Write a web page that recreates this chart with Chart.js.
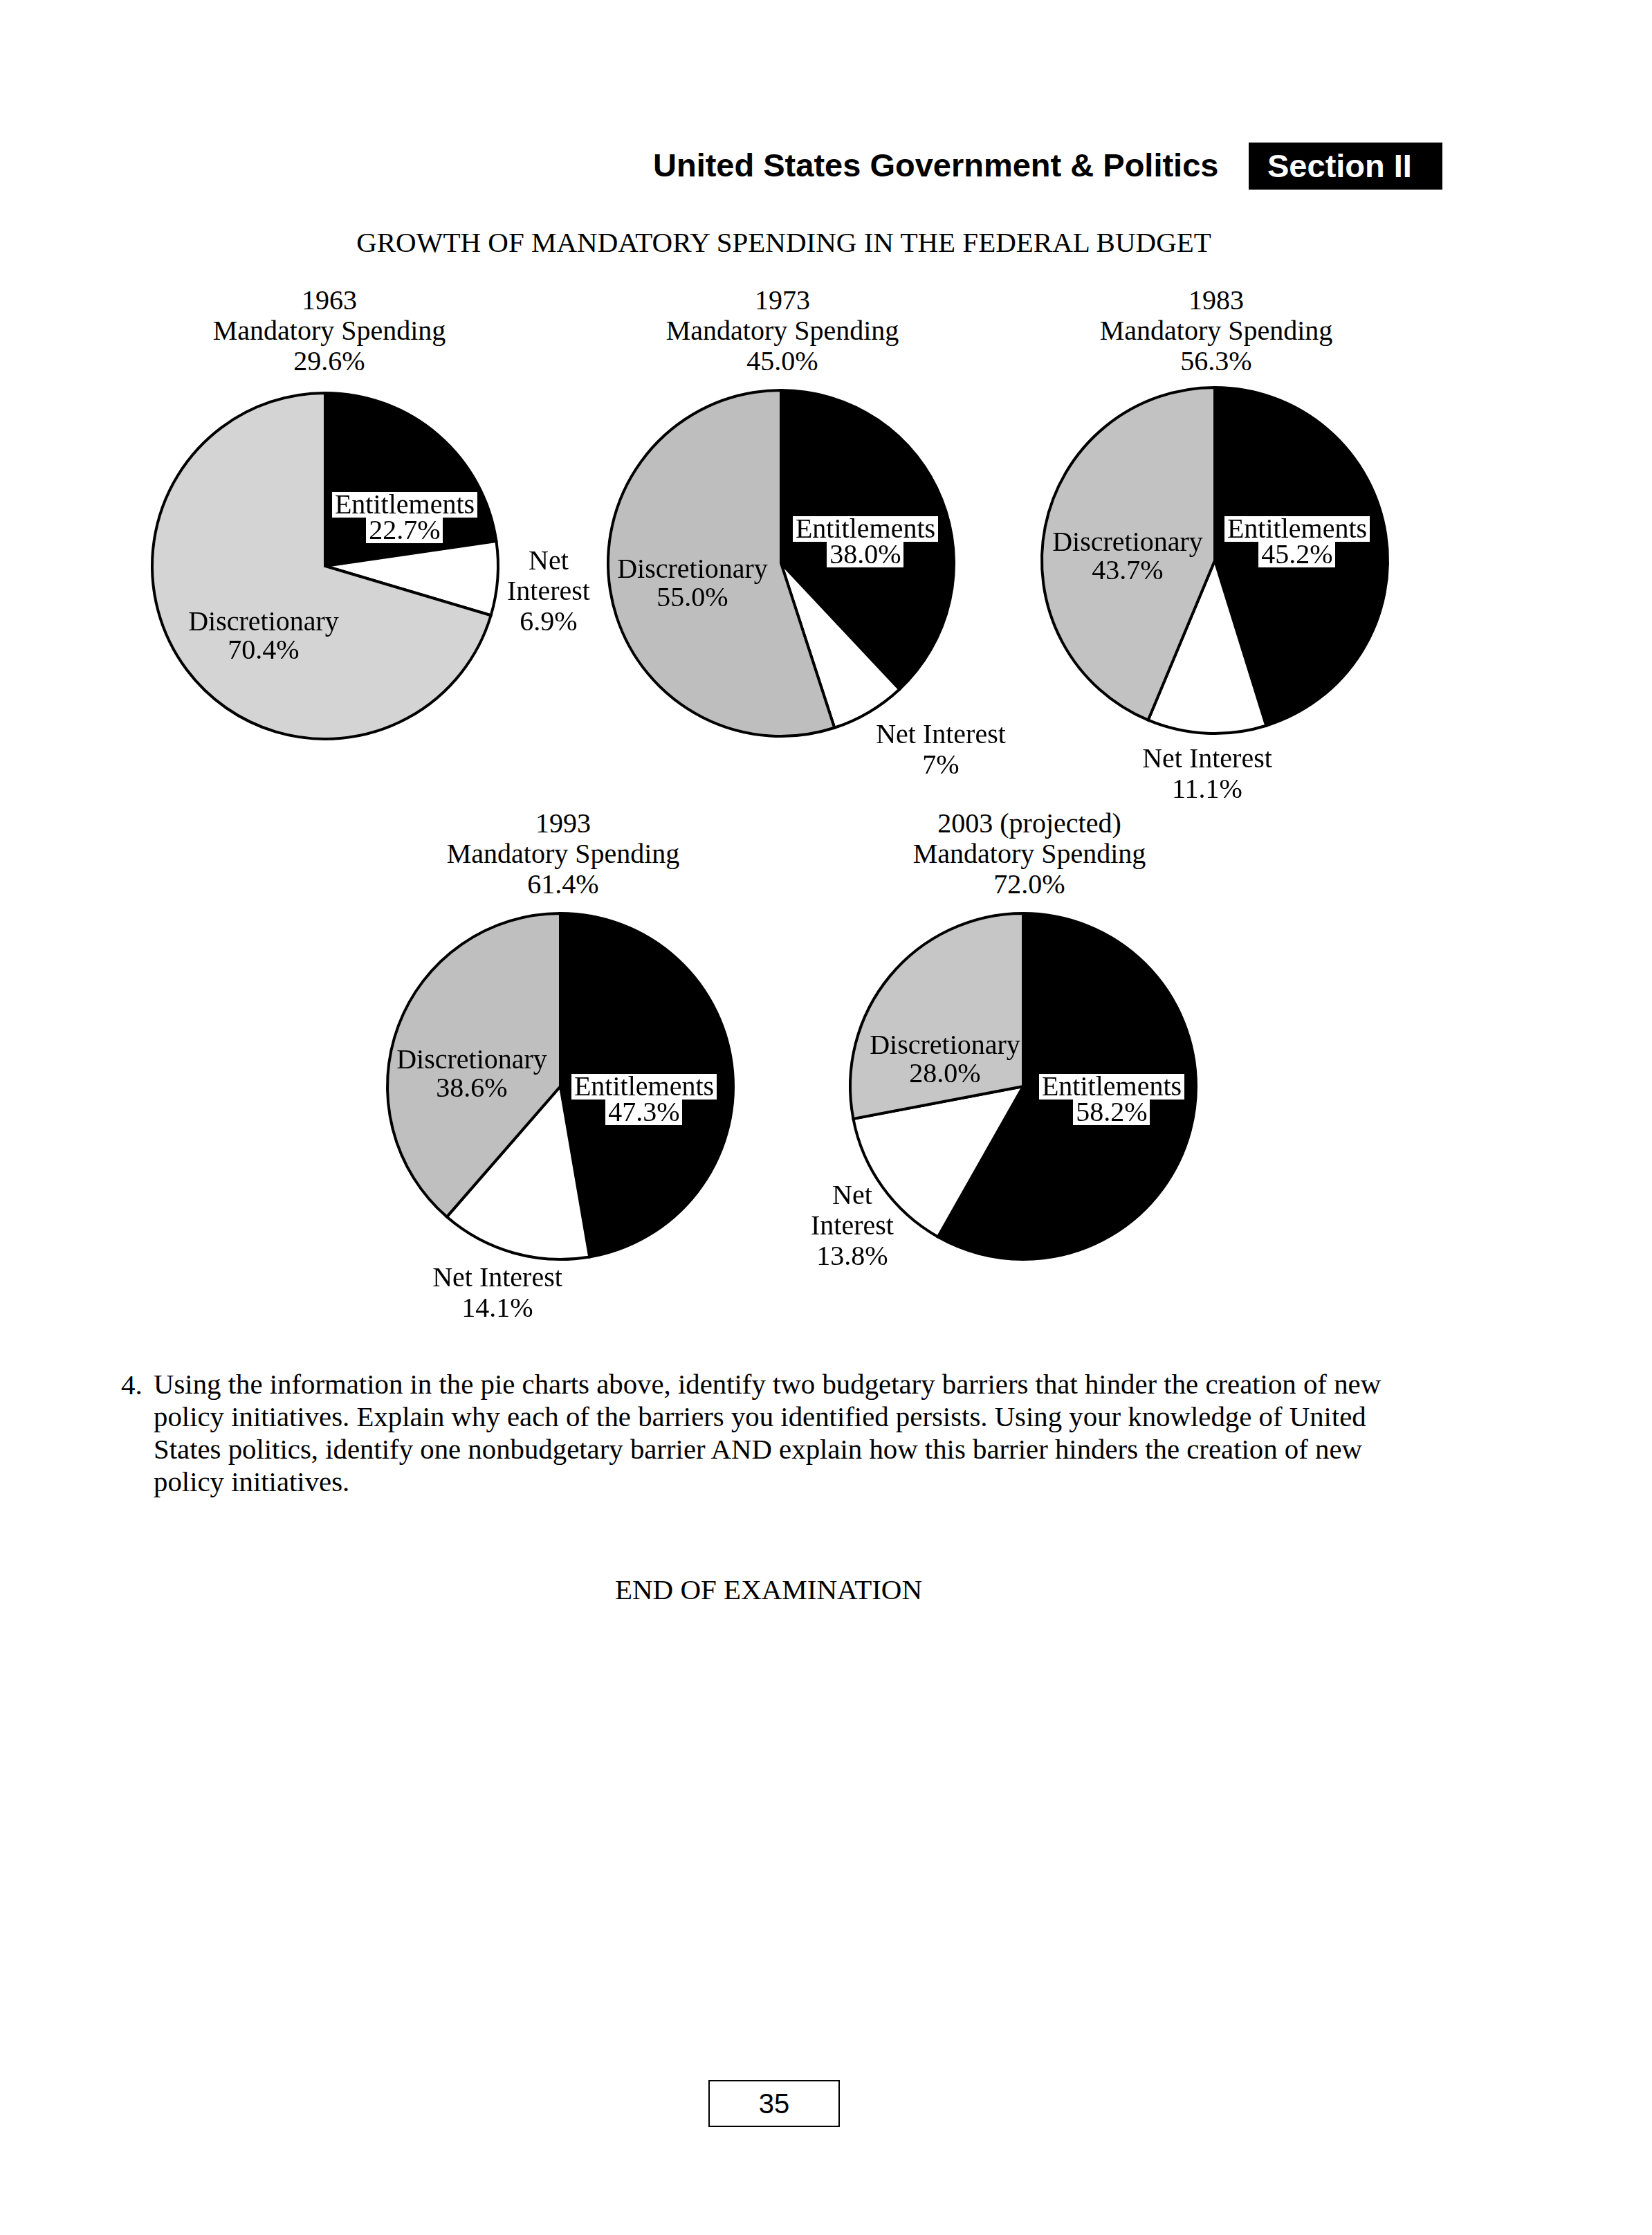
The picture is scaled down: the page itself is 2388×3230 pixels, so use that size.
<!DOCTYPE html>
<html>
<head>
<meta charset="utf-8">
<script src="https://cdn.jsdelivr.net/npm/chart.js@4.4.1/dist/chart.umd.min.js"></script>
<style>
  html, body { margin: 0; padding: 0; background: #fff; }
  #page { position: relative; width: 2388px; height: 3230px; background: #fff; overflow: hidden;
          font-family: "Liberation Serif", "Times New Roman", serif; color: #000; }
  .abs { position: absolute; white-space: nowrap; }
  .serif { font-family: "Liberation Serif", "Times New Roman", serif; font-size: 40px; line-height: 44px; }
  .big { font-size: 41px; }
  .sans { font-family: "Liberation Sans", Arial, sans-serif; }
  canvas.pie { position: absolute; }
</style>
</head>
<body>
<div id="page">
  <div class="abs sans" style="left:944px; top:210px; font-size:47px; font-weight:bold; line-height:58px;">United States Government &amp; Politics</div>
  <div class="abs sans" style="left:1805px; top:206px; width:280px; height:68px; background:#000; color:#fff; font-size:47px; font-weight:bold; line-height:68px; text-align:left; padding-left:27px; box-sizing:border-box;">Section II</div>

  <div class="abs serif big" style="left:0; width:2266px; top:328px; text-align:center;">GROWTH OF MANDATORY SPENDING IN THE FEDERAL BUDGET</div>

  <div id="titles"></div>
  <div id="pies"></div>

  <div id="question"></div>

  <div class="abs serif big" style="left:0; width:2222px; top:2275px; text-align:center;">END OF EXAMINATION</div>

  <div class="abs sans" style="left:1024px; top:3006px; width:190px; height:68px; border:2px solid #000; box-sizing:border-box; font-size:40px; line-height:64px; text-align:center;">35</div>
</div>

<script>
// ---------------- data ----------------
const years = ["1963", "1973", "1983", "1993", "2003 (projected)"];
const categories = ["Entitlements", "Net Interest", "Discretionary"];
const entitlements = [22.7, 38.0, 45.2, 47.3, 58.2];
const netInterest = [6.9, 7, 11.1, 14.1, 13.8];
const discretionary = [70.4, 55.0, 43.7, 38.6, 28.0];
const mandatorySpending = [29.6, 45.0, 56.3, 61.4, 72.0];
const netInterestDecimals = [1, 0, 1, 1, 1];

const questionLines = [
  "Using the information in the pie charts above, identify two budgetary barriers that hinder the creation of new",
  "policy initiatives. Explain why each of the barriers you identified persists. Using your knowledge of United",
  "States politics, identify one nonbudgetary barrier AND explain how this barrier hinders the creation of new",
  "policy initiatives."
];

// ---------------- layout / style ----------------
const PIE_R = 250;
const CANVAS_W = 820, CANVAS_H = 800, PAD_TOP = 40;
const CX = CANVAS_W / 2, CY = PAD_TOP + (CANVAS_H - PAD_TOP) / 2;
const pieCenters = [[470, 818], [1129, 814], [1756, 810], [810, 1570], [1479, 1570]];
const titleX = [476, 1131, 1758, 814, 1488];
const titleTop = [412, 412, 412, 1168, 1168];
const sliceColors = ["#000000", "#ffffff"];
const grayPerPie = ["#d4d4d4", "#bebebe", "#c2c2c2", "#bfbfbf", "#c6c6c6"];
const placements = [
  { ent: [115, -89], disc: [-89, 80],  net: [323, -8],  netSplit: true },
  { ent: [122, -50], disc: [-128, 8],  net: [231, 247], netSplit: false },
  { ent: [119, -46], disc: [-126, -27], net: [-11, 286], netSplit: false },
  { ent: [121, 0],   disc: [-128, -39], net: [-91, 276], netSplit: false },
  { ent: [128, 0],   disc: [-113, -60], net: [-247, 157], netSplit: true }
];

const fmt = (v, d) => v.toFixed(d) + "%";

// titles above each pie
const titlesEl = document.getElementById("titles");
years.forEach((yr, i) => {
  const d = document.createElement("div");
  d.className = "abs serif";
  d.style.left = (titleX[i] - 300) + "px";
  d.style.width = "600px";
  d.style.textAlign = "center";
  d.style.lineHeight = "44px";
  d.style.top = titleTop[i] + "px";
  d.innerHTML = yr + "<br>Mandatory Spending<br>" + fmt(mandatorySpending[i], 1);
  titlesEl.appendChild(d);
});

// question text
const qEl = document.getElementById("question");
const num = document.createElement("div");
num.className = "abs serif big";
num.style.left = "175px"; num.style.top = (2001 - 22) + "px";
num.textContent = "4.";
qEl.appendChild(num);
questionLines.forEach((t, i) => {
  const d = document.createElement("div");
  d.className = "abs serif";
  d.style.fontSize = "40.8px";
  d.style.left = "222px";
  d.style.top = (2001 + i * 47 - 22) + "px";
  d.textContent = t;
  qEl.appendChild(d);
});

// slice label plugin
const sliceLabels = {
  id: "sliceLabels",
  afterDatasetsDraw(chart, args, opts) {
    const arc = chart.getDatasetMeta(0).data[0];
    if (!arc) return;
    const x = arc.x, y = arc.y;
    const ctx = chart.ctx;
    ctx.save();
    ctx.font = '40px "Liberation Serif", "Times New Roman", serif';
    ctx.textAlign = "center";
    ctx.textBaseline = "middle";
    for (const item of opts.items) {
      item.lines.forEach((t, k) => {
        const tx = x + item.dx, ty = y + item.dy + k * item.lh;
        if (item.box) {
          const w = ctx.measureText(t).width;
          ctx.fillStyle = "#fff";
          ctx.fillRect(Math.round(tx - w / 2 - 4), Math.round(ty - item.lh / 2), Math.round(w + 8), item.lh);
        }
        ctx.fillStyle = "#000";
        ctx.fillText(t, tx, ty + 2);
      });
    }
    ctx.restore();
  }
};

const piesEl = document.getElementById("pies");
years.forEach((yr, i) => {
  const [cx, cy] = pieCenters[i];
  const c = document.createElement("canvas");
  c.className = "pie";
  c.width = CANVAS_W; c.height = CANVAS_H;
  c.style.width = CANVAS_W + "px"; c.style.height = CANVAS_H + "px";
  c.style.left = (cx - CX) + "px";
  c.style.top = (cy - CY) + "px";
  piesEl.appendChild(c);

  const p = placements[i];
  const netText = fmt(netInterest[i], netInterestDecimals[i]);
  const netLines = p.netSplit ? ["Net", "Interest", netText] : ["Net Interest", netText];

  new Chart(c, {
    type: "pie",
    data: {
      labels: categories,
      datasets: [{
        data: [entitlements[i], netInterest[i], discretionary[i]],
        backgroundColor: [sliceColors[0], sliceColors[1], grayPerPie[i]],
        borderColor: "#000",
        borderWidth: 4,
        borderJoinStyle: "miter"
      }]
    },
    options: {
      responsive: false,
      animation: false,
      events: [],
      radius: PIE_R,
      rotation: 0,
      layout: { padding: { top: PAD_TOP, bottom: 0, left: 0, right: 0 } },
      plugins: {
        legend: { display: false },
        tooltip: { enabled: false },
        title: { display: false },
        sliceLabels: {
          items: [
            { lines: [categories[0], fmt(entitlements[i], 1)], dx: p.ent[0], dy: p.ent[1], lh: 37, box: true },
            { lines: [categories[2], fmt(discretionary[i], 1)], dx: p.disc[0], dy: p.disc[1], lh: 41, box: false },
            { lines: netLines, dx: p.net[0], dy: p.net[1], lh: 44, box: false }
          ]
        }
      }
    },
    plugins: [sliceLabels]
  });
});
</script>
</body>
</html>
